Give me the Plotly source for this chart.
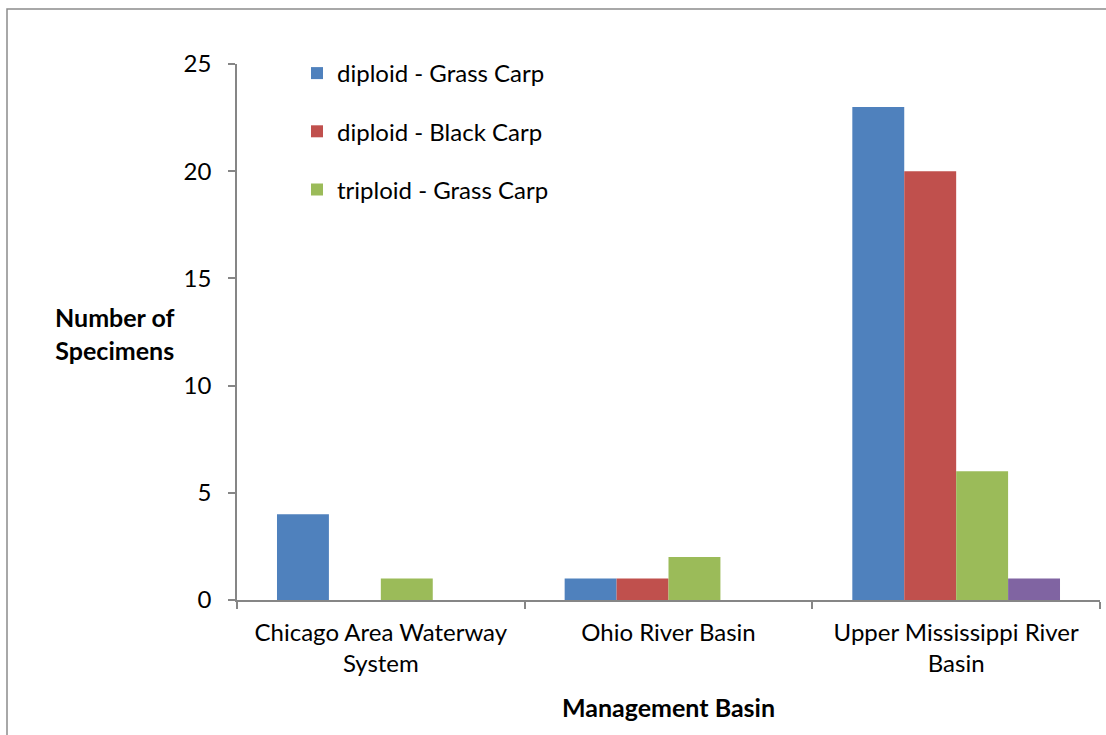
import plotly.graph_objects as go

categories = ["Chicago Area Waterway<br>System", "Ohio River Basin", "Upper Mississippi River<br>Basin"]
series_names = ["diploid - Grass Carp", "diploid - Black Carp", "triploid - Grass Carp", "other"]
diploid_grass = [4, 1, 23]
diploid_black = [0, 1, 20]
triploid_grass = [1, 2, 6]
other_series = [0, 0, 1]
colors = ["#4F81BD", "#C0504D", "#9BBB59", "#8064A2"]
y_ticks = [0, 5, 10, 15, 20, 25]

W, H = 1106, 735
L, R, T, B = 237, 6, 64, 135
FONT = "Lato"
FS = 24

fig = go.Figure()
all_vals = [diploid_grass, diploid_black, triploid_grass, other_series]
for i, (name, vals, col) in enumerate(zip(series_names, all_vals, colors)):
    fig.add_trace(go.Bar(
        x=categories, y=vals, name=name, marker=dict(color=col, line=dict(width=0)),
        showlegend=(i < 3), legendgroup=f"g{i}",
    ))

pw = W - L - R
ph = H - T - B
def px_x(p):
    return (p - L) / pw
def px_y(p):
    return (H - B - p) / ph

fig.add_shape(type="rect", xref="paper", yref="paper",
              x0=px_x(7), x1=px_x(1120), y0=px_y(9), y1=px_y(760),
              line=dict(color="#8c8c8c", width=1.5), fillcolor="rgba(0,0,0,0)", layer="below")

fig.add_annotation(text="<b>Number of<br>Specimens</b>", xref="paper", yref="paper",
                   x=px_x(115), y=px_y(333), xanchor="center", yanchor="middle",
                   showarrow=False, align="center",
                   font=dict(family=FONT, size=25, color="black"))

fig.update_layout(
    width=W, height=H, margin=dict(l=L, r=R, t=T, b=B),
    paper_bgcolor="white", plot_bgcolor="white",
    barmode="group", bargap=0.278, bargroupgap=0,
    font=dict(family=FONT, size=FS, color="black"),
    legend=dict(x=px_x(297), y=px_y(51), xanchor="left", yanchor="top",
                font=dict(family=FONT, size=FS), tracegroupgap=24,
                traceorder="grouped", bgcolor="rgba(0,0,0,0)"),
    xaxis=dict(type="category", showline=True, linecolor="#868686", linewidth=1.5,
               ticks="outside", tickson="boundaries", ticklen=7, tickcolor="#868686",
               tickwidth=1.5, showgrid=False, ticklabelstandoff=10,
               title=dict(text="<b>Management Basin</b>", font=dict(family=FONT, size=25), standoff=24)),
    yaxis=dict(range=[0, 25], tickvals=y_ticks, showline=True, linecolor="#868686", linewidth=1.5,
               ticks="outside", ticklen=7, tickcolor="#868686", tickwidth=1.5,
               showgrid=False, zeroline=False, ticklabelstandoff=12),
)

fig.write_html("out.html")
